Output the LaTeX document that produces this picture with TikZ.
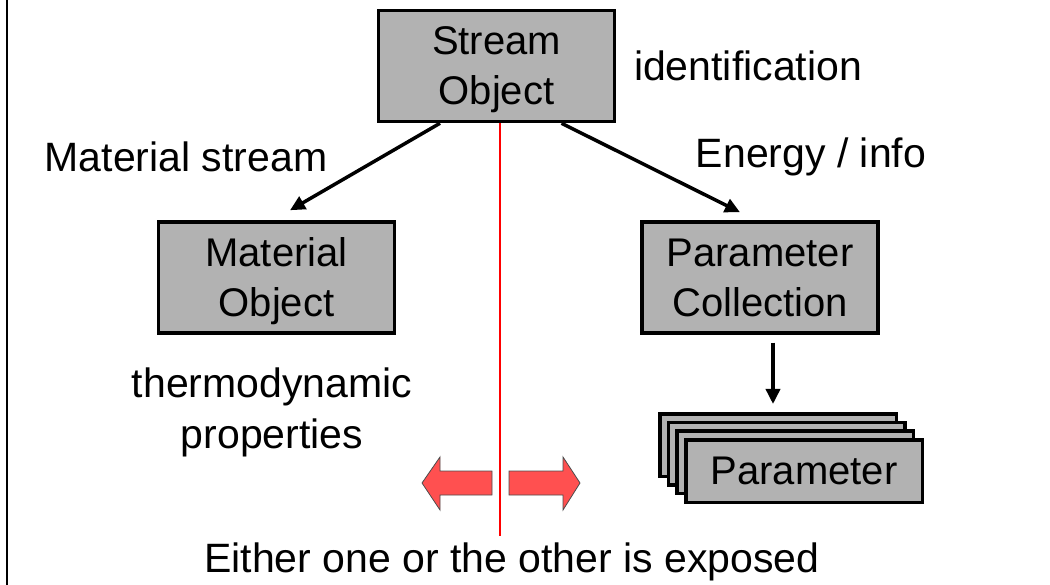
\documentclass[tikz,border=0pt]{standalone}
\usepackage{fontspec}
\setmainfont{Liberation Sans}
\usetikzlibrary{arrows.meta}
\definecolor{boxgray}{HTML}{B2B2B2}
\definecolor{arrowred}{HTML}{FF5050}
\begin{document}
\begin{tikzpicture}[x=1pt,y=-1pt,
  box/.style={draw=black, line width=3.5pt, fill=boxgray, minimum width=236pt, minimum height=111pt, align=center, inner sep=0pt, text depth=0pt, font=\fontsize{40}{50}\selectfont},
  pbox/.style={draw=black, line width=3.5pt, fill=boxgray, minimum width=236.5pt, minimum height=62.5pt, inner sep=0pt, font=\fontsize{40}{50}\selectfont},
  lbl/.style={align=center, inner sep=0pt, font=\fontsize{41}{51}\selectfont},
  conn/.style={line width=3.5pt, -{Triangle[length=15pt,width=14pt]}},
  divider/.style={draw=red, line width=2pt},
  fatarrow/.style={draw=black!70, line width=0.8pt, fill=arrowred}
]
\useasboundingbox (0,0) rectangle (1050,585);
\draw[line width=1.5pt] (7,0) -- (7,585);

\node[box] (so) at (496.5,66) {Stream\\Object};
\node[box] (mo) at (276.5,277.5) {Material\\Object};
\node[box] (pc) at (760,277.5) {Parameter\\Collection};

\node[pbox] (p3) at (778,445) {};
\node[pbox] (p2) at (786.7,453.7) {};
\node[pbox] (p1) at (795.4,462.4) {};
\node[pbox] (p0) at (804,471) {Parameter};

\node[lbl] (ident) at (748,66) {identification};
\node[lbl] (ms) at (186,157) {Material stream};
\node[lbl] (ei) at (811,157) {Energy / info};
\node[lbl] (thermo) at (272,412) {thermodynamic\\properties};
\node[lbl] (either) at (512,562) {Either one or the other is exposed};

\coordinate (lineend) at (500,536);
\draw[divider] ([xshift=3.5pt]so.south) -- (lineend);

\draw[conn] ([xshift=-56.5pt]so.south) -- ([xshift=13.5pt,yshift=10pt]mo.north);
\draw[conn] ([xshift=65pt]so.south) -- ([xshift=-20pt,yshift=8pt]pc.north);
\draw[conn] ([xshift=13pt,yshift=-8pt]pc.south) -- ([xshift=-5pt,yshift=8pt]p3.north);

\draw[fatarrow] (422,483) -- (440,457) -- (440,471) -- (492,471) -- (492,495) -- (440,495) -- (440,510) -- cycle;
\draw[fatarrow] (509,471) -- (563,471) -- (563,457) -- (580,483) -- (563,510) -- (563,495) -- (509,495) -- cycle;
\end{tikzpicture}
\end{document}
